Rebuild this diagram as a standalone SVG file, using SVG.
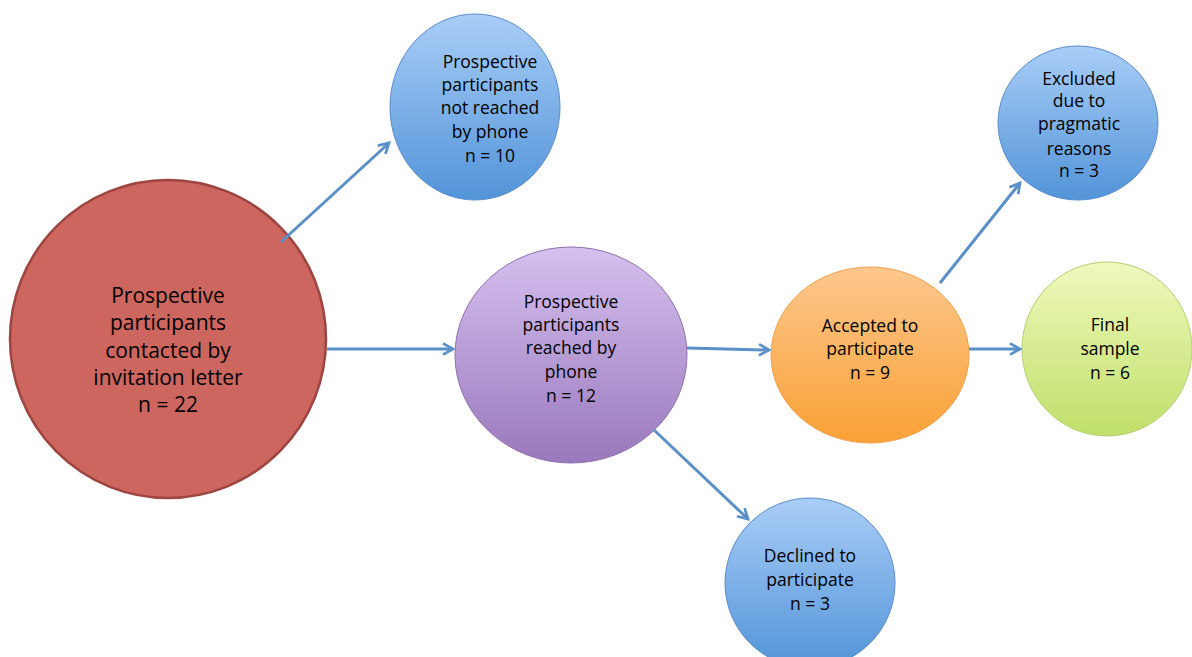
<svg xmlns="http://www.w3.org/2000/svg" width="1192" height="657" viewBox="0 0 1192 657">
<style>
text{font-family:"Open Sans","Liberation Sans",sans-serif;fill:#000;text-anchor:middle}
.s{font-size:17.5px}
.l{font-size:21px}
.conn line{stroke:#5b8fc8;stroke-width:3;fill:none}
</style>
<defs>
<linearGradient id="gB" x1="0" y1="0" x2="0" y2="1"><stop offset="0" stop-color="#a9cdf7"/><stop offset="1" stop-color="#5294d8"/></linearGradient>
<linearGradient id="gP" x1="0" y1="0" x2="0" y2="1"><stop offset="0" stop-color="#d5c0ef"/><stop offset="1" stop-color="#9a78bc"/></linearGradient>
<linearGradient id="gO" x1="0" y1="0" x2="0" y2="1"><stop offset="0" stop-color="#fdc78d"/><stop offset="1" stop-color="#f9a135"/></linearGradient>
<linearGradient id="gG" x1="0" y1="0" x2="0" y2="1"><stop offset="0" stop-color="#eff9bd"/><stop offset="1" stop-color="#c0df6a"/></linearGradient>
<marker id="ah" viewBox="0 0 12 12" refX="10" refY="6" markerWidth="5" markerHeight="5" markerUnits="strokeWidth" orient="auto">
<path d="M2,1.5 L10,6 L2,10.5" fill="none" stroke="#5b8fc8" stroke-width="2.2"/>
</marker>
</defs>
<g id="n-contacted">
<ellipse cx="168" cy="339" rx="158" ry="159" fill="#cd665e" stroke="#9d4541" stroke-width="2.5"/>
<text class="l" x="168" y="303">Prospective</text>
<text class="l" x="168" y="330">participants</text>
<text class="l" x="168" y="358">contacted by</text>
<text class="l" x="168" y="385">invitation letter</text>
<text class="l" x="168" y="412">n = 22</text>
</g>
<g id="n-notreached">
<ellipse cx="475" cy="107" rx="85" ry="93" fill="url(#gB)" stroke="#5a8ccb" stroke-width="1"/>
<text class="s" x="490" y="68">Prospective</text>
<text class="s" x="490" y="91">participants</text>
<text class="s" x="490" y="114">not reached</text>
<text class="s" x="490" y="138">by phone</text>
<text class="s" x="490" y="162">n = 10</text>
</g>
<g id="n-reached">
<ellipse cx="571" cy="355" rx="116" ry="108" fill="url(#gP)" stroke="#8e70b0" stroke-width="1"/>
<text class="s" x="571" y="308">Prospective</text>
<text class="s" x="571" y="331">participants</text>
<text class="s" x="571" y="354">reached by</text>
<text class="s" x="571" y="378">phone</text>
<text class="s" x="571" y="402">n = 12</text>
</g>
<g id="n-accepted">
<ellipse cx="870" cy="355" rx="99" ry="88" fill="url(#gO)" stroke="#f0a050" stroke-width="1"/>
<text class="s" x="870" y="332">Accepted to</text>
<text class="s" x="870" y="355">participate</text>
<text class="s" x="870" y="379">n = 9</text>
</g>
<g id="n-excluded">
<ellipse cx="1078" cy="123" rx="80" ry="77" fill="url(#gB)" stroke="#5a8ccb" stroke-width="1"/>
<text class="s" x="1079" y="85">Excluded</text>
<text class="s" x="1079" y="107">due to</text>
<text class="s" x="1079" y="130">pragmatic</text>
<text class="s" x="1079" y="155">reasons</text>
<text class="s" x="1079" y="177">n = 3</text>
</g>
<g id="n-final">
<ellipse cx="1107" cy="349" rx="85" ry="87" fill="url(#gG)" stroke="#b5d070" stroke-width="1"/>
<text class="s" x="1110" y="331">Final</text>
<text class="s" x="1110" y="355">sample</text>
<text class="s" x="1110" y="379">n = 6</text>
</g>
<g id="n-declined">
<ellipse cx="810" cy="583" rx="85" ry="85" fill="url(#gB)" stroke="#5a8ccb" stroke-width="1"/>
<text class="s" x="810" y="562">Declined to</text>
<text class="s" x="810" y="586">participate</text>
<text class="s" x="810" y="610">n = 3</text>
</g>
<g id="connectors" class="conn">
<line x1="281" y1="242" x2="389" y2="143" marker-end="url(#ah)"/>
<line x1="327" y1="349" x2="453" y2="349" marker-end="url(#ah)"/>
<line x1="687" y1="348" x2="769" y2="350" marker-end="url(#ah)"/>
<line x1="654" y1="430" x2="748" y2="519" marker-end="url(#ah)"/>
<line x1="940" y1="283" x2="1020" y2="183" marker-end="url(#ah)"/>
<line x1="969" y1="349" x2="1020" y2="349" marker-end="url(#ah)"/>
</g>
</svg>
